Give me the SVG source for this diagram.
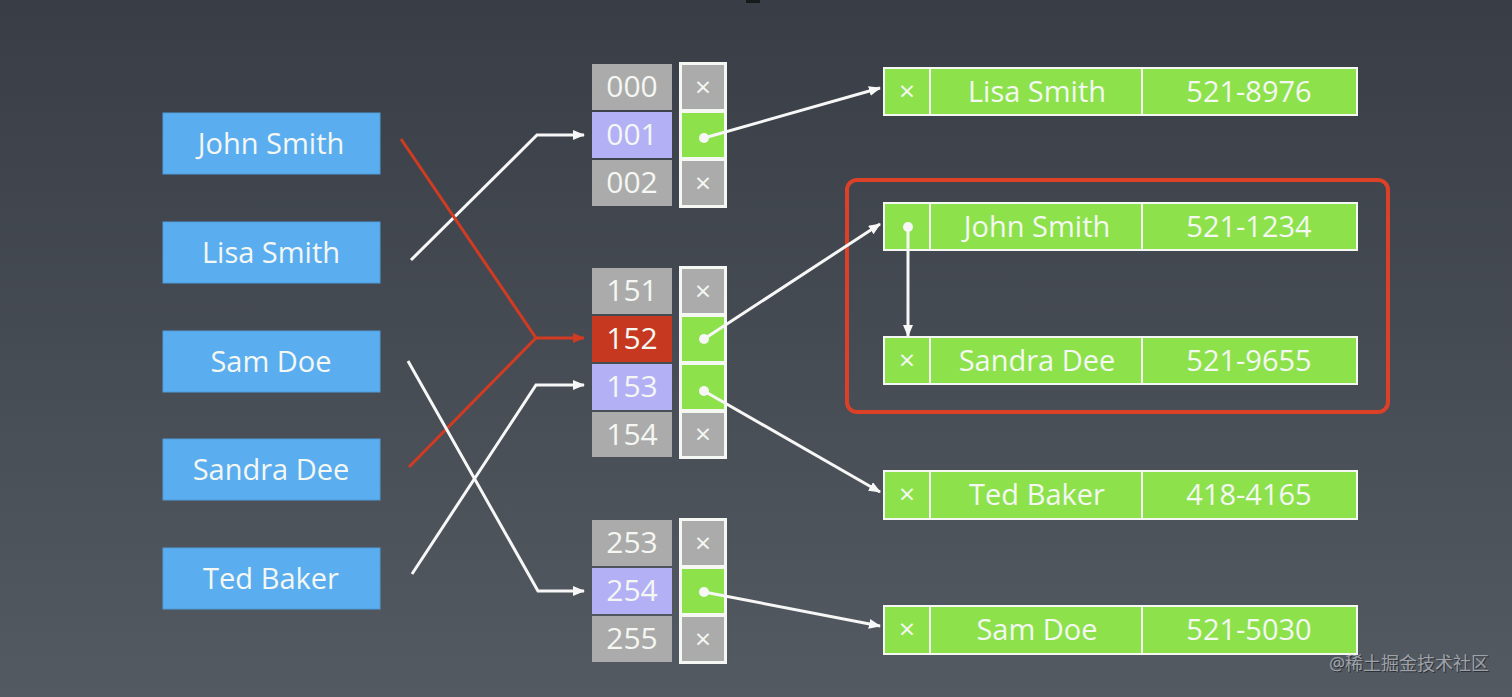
<svg xmlns="http://www.w3.org/2000/svg" width="1512" height="697" viewBox="0 0 1512 697">
  <defs>
    <linearGradient id="bg" x1="0" y1="0" x2="0" y2="1">
      <stop offset="0" stop-color="#383d46"/>
      <stop offset="1" stop-color="#545a61"/>
    </linearGradient>
    <marker id="aw" viewBox="0 0 12 10" refX="11" refY="5" markerWidth="12" markerHeight="10" markerUnits="userSpaceOnUse" orient="auto">
      <path d="M0,0 L12,5 L0,10 z" fill="#f7f7f7"/>
    </marker>
    <marker id="ar" viewBox="0 0 12 10" refX="11" refY="5" markerWidth="12" markerHeight="10" markerUnits="userSpaceOnUse" orient="auto">
      <path d="M0,0 L12,5 L0,10 z" fill="#d13b22"/>
    </marker>
    <style>
      .t { font-family: "Open Sans", "Noto Sans", "Liberation Sans", sans-serif; fill: #f4f7f2; text-anchor: middle; dominant-baseline: central; }
      .x { font-family: "Open Sans", "Noto Sans", "Liberation Sans", sans-serif; fill: #f4f7f2; text-anchor: middle; dominant-baseline: central; font-size: 28px; }
      .name { fill: #5aaef0; stroke: #4f9ddb; stroke-width: 1; }
      .idx { fill: #ababab; }
      .lav { fill: #b3b0f6; }
      .red { fill: #c6381f; }
      .grn { fill: #8de24c; }
      .gry { fill: #ababab; }
      .ent { fill: #8de24c; stroke: #f4f7f2; stroke-width: 2; }
      .div { stroke: #f4f7f2; stroke-width: 2; }
      .wl { fill: none; stroke: #f7f7f7; stroke-width: 3; }
      .rl { fill: none; stroke: #d13b22; stroke-width: 3; }
      .dot { fill: #f7f7f7; }
    </style>
  </defs>
  <rect width="1512" height="697" fill="url(#bg)"/>
  <rect x="746" y="0" width="14" height="3" fill="#17191d"/>

  <!-- keys -->
  <g id="key-john"><rect class="name" x="163" y="113" width="217" height="61"/><text class="t" x="271" y="142" font-size="29">John Smith</text></g>
  <g id="key-lisa"><rect class="name" x="163" y="222" width="217" height="61"/><text class="t" x="271" y="251" font-size="29">Lisa Smith</text></g>
  <g id="key-sam"><rect class="name" x="163" y="331" width="217" height="61"/><text class="t" x="271" y="360" font-size="29">Sam Doe</text></g>
  <g id="key-sandra"><rect class="name" x="163" y="439" width="217" height="61"/><text class="t" x="271" y="468" font-size="29">Sandra Dee</text></g>
  <g id="key-ted"><rect class="name" x="163" y="548" width="217" height="61"/><text class="t" x="271" y="577" font-size="29">Ted Baker</text></g>

  <!-- bucket group A -->
  <g id="bucket-000-002">
    <rect class="idx" x="592" y="64" width="80" height="46"/><text class="t" x="632" y="85" font-size="30">000</text>
    <rect class="lav" x="592" y="112" width="80" height="46"/><text class="t" x="632" y="133" font-size="30">001</text>
    <rect class="idx" x="592" y="160" width="80" height="46"/><text class="t" x="632" y="181" font-size="30">002</text>
    <rect x="679" y="62" width="48" height="146" fill="#f4f7f2"/>
    <rect class="gry" x="682" y="65" width="42" height="44"/><text class="x" x="703" y="86">×</text>
    <rect class="grn" x="682" y="113" width="42" height="44"/><circle class="dot" cx="704" cy="138" r="5"/>
    <rect class="gry" x="682" y="161" width="42" height="44"/><text class="x" x="703" y="182">×</text>
  </g>

  <!-- bucket group B -->
  <g id="bucket-151-154">
    <rect class="idx" x="592" y="268" width="80" height="46"/><text class="t" x="632" y="289" font-size="30">151</text>
    <rect class="red" x="592" y="316" width="80" height="46"/><text class="t" x="632" y="337" font-size="30">152</text>
    <rect class="lav" x="592" y="364" width="80" height="46"/><text class="t" x="632" y="385" font-size="30">153</text>
    <rect class="idx" x="592" y="412" width="80" height="45"/><text class="t" x="632" y="433" font-size="30">154</text>
    <rect x="679" y="266" width="48" height="193" fill="#f4f7f2"/>
    <rect class="gry" x="682" y="269" width="42" height="44"/><text class="x" x="703" y="290">×</text>
    <rect class="grn" x="682" y="317" width="42" height="44"/><circle class="dot" cx="704" cy="339" r="5"/>
    <rect class="grn" x="682" y="365" width="42" height="44"/><circle class="dot" cx="704" cy="391" r="5"/>
    <rect class="gry" x="682" y="413" width="42" height="43"/><text class="x" x="703" y="433">×</text>
  </g>

  <!-- bucket group C -->
  <g id="bucket-253-255">
    <rect class="idx" x="592" y="520" width="80" height="46"/><text class="t" x="632" y="541" font-size="30">253</text>
    <rect class="lav" x="592" y="568" width="80" height="46"/><text class="t" x="632" y="589" font-size="30">254</text>
    <rect class="idx" x="592" y="616" width="80" height="46"/><text class="t" x="632" y="637" font-size="30">255</text>
    <rect x="679" y="518" width="48" height="146" fill="#f4f7f2"/>
    <rect class="gry" x="682" y="521" width="42" height="44"/><text class="x" x="703" y="542">×</text>
    <rect class="grn" x="682" y="569" width="42" height="44"/><circle class="dot" cx="704" cy="592" r="5"/>
    <rect class="gry" x="682" y="617" width="42" height="44"/><text class="x" x="703" y="638">×</text>
  </g>

  <!-- entries -->
  <g id="entry-lisa">
    <rect class="ent" x="884" y="68" width="473" height="47"/>
    <line class="div" x1="930" y1="68" x2="930" y2="115"/><line class="div" x1="1142" y1="68" x2="1142" y2="115"/>
    <text class="x" x="907" y="90">×</text>
    <text class="t" x="1037" y="90" font-size="29">Lisa Smith</text>
    <text class="t" x="1249" y="90" font-size="29">521-8976</text>
  </g>
  <g id="entry-john">
    <rect class="ent" x="884" y="203" width="473" height="47"/>
    <line class="div" x1="930" y1="203" x2="930" y2="250"/><line class="div" x1="1142" y1="203" x2="1142" y2="250"/>
    <text class="t" x="1037" y="225" font-size="29">John Smith</text>
    <text class="t" x="1249" y="225" font-size="29">521-1234</text>
  </g>
  <g id="entry-sandra">
    <rect class="ent" x="884" y="337" width="473" height="47"/>
    <line class="div" x1="930" y1="337" x2="930" y2="384"/><line class="div" x1="1142" y1="337" x2="1142" y2="384"/>
    <text class="x" x="907" y="359">×</text>
    <text class="t" x="1037" y="359" font-size="29">Sandra Dee</text>
    <text class="t" x="1249" y="359" font-size="29">521-9655</text>
  </g>
  <g id="entry-ted">
    <rect class="ent" x="884" y="471" width="473" height="48"/>
    <line class="div" x1="930" y1="471" x2="930" y2="519"/><line class="div" x1="1142" y1="471" x2="1142" y2="519"/>
    <text class="x" x="907" y="493">×</text>
    <text class="t" x="1037" y="493" font-size="29">Ted Baker</text>
    <text class="t" x="1249" y="493" font-size="29">418-4165</text>
  </g>
  <g id="entry-sam">
    <rect class="ent" x="884" y="606" width="473" height="48"/>
    <line class="div" x1="930" y1="606" x2="930" y2="654"/><line class="div" x1="1142" y1="606" x2="1142" y2="654"/>
    <text class="x" x="907" y="628">×</text>
    <text class="t" x="1037" y="628" font-size="29">Sam Doe</text>
    <text class="t" x="1249" y="628" font-size="29">521-5030</text>
  </g>

  <g id="collision-box">
    <rect x="847" y="180" width="541" height="232" rx="10" fill="none" stroke="#dc4128" stroke-width="4"/>
  </g>

  <!-- connectors -->
  <g id="connectors">
    <polyline class="wl" points="411,260 537,135 584,135" marker-end="url(#aw)"/>
    <polyline class="rl" points="401,139 536,338"/>
    <polyline class="rl" points="409,467 536,338 584,338" marker-end="url(#ar)"/>
    <polyline class="wl" points="408,361 538,591 584,591" marker-end="url(#aw)"/>
    <polyline class="wl" points="412,574 536,385 584,385" marker-end="url(#aw)"/>
    <line class="wl" x1="704" y1="138" x2="880" y2="88" marker-end="url(#aw)"/>
    <line class="wl" x1="704" y1="339" x2="880" y2="224" marker-end="url(#aw)"/>
    <line class="wl" x1="704" y1="391" x2="880" y2="492" marker-end="url(#aw)"/>
    <line class="wl" x1="704" y1="592" x2="880" y2="626" marker-end="url(#aw)"/>
    <circle class="dot" cx="908" cy="227" r="5"/>
    <line class="wl" x1="908" y1="227" x2="908" y2="336" stroke-width="2" marker-end="url(#aw)"/>
  </g>

  <text x="1410" y="664" font-family="'Noto Sans', 'Noto Sans CJK SC', sans-serif" font-size="18" fill="#2e3238" text-anchor="middle" dominant-baseline="central">@稀土掘金技术社区</text>
  <text x="1409" y="663" font-family="'Noto Sans', 'Noto Sans CJK SC', sans-serif" font-size="18" fill="#9ea2a8" text-anchor="middle" dominant-baseline="central">@稀土掘金技术社区</text>
</svg>
